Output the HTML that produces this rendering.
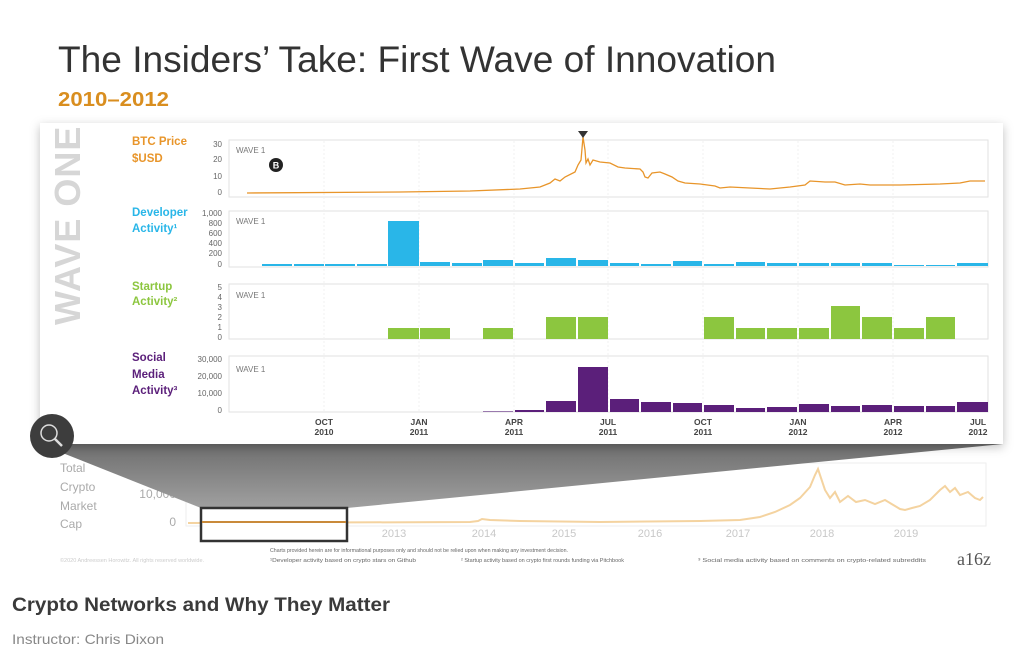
<!DOCTYPE html>
<html><head><meta charset="utf-8"><style>
html,body{margin:0;padding:0;background:#fff;}
svg{display:block;font-family:"Liberation Sans",sans-serif;}
</style></head><body>
<svg width="1024" height="656" viewBox="0 0 1024 656" xmlns="http://www.w3.org/2000/svg">
<defs>
<filter id="sh" x="-5%" y="-10%" width="110%" height="130%"><feDropShadow dx="0" dy="3" stdDeviation="5" flood-color="#000" flood-opacity="0.25"/></filter>
<linearGradient id="tg" x1="0" y1="0" x2="0" y2="1"><stop offset="0" stop-color="#6e6e6e"/><stop offset="1" stop-color="#a0a0a0"/></linearGradient>
</defs>
<rect width="1024" height="656" fill="#fff"/>
<text x="58" y="72" font-size="37" fill="#333" textLength="718" lengthAdjust="spacingAndGlyphs">The Insiders’ Take: First Wave of Innovation</text>
<text x="58" y="106" font-size="20" font-weight="bold" fill="#d98e1f" textLength="111" lengthAdjust="spacingAndGlyphs">2010–2012</text>

<g font-size="12" fill="#aaa">
<text x="60" y="472">Total</text><text x="60" y="491">Crypto</text><text x="60" y="510">Market</text><text x="60" y="528">Cap</text>
<text x="176" y="472" text-anchor="end">20,000</text><text x="176" y="498" text-anchor="end">10,000</text><text x="176" y="526" text-anchor="end">0</text>
</g>
<rect x="186" y="463" width="800" height="63" fill="#fff" stroke="#eee"/>
<g font-size="11" fill="#c8c8c8" text-anchor="middle">
<text x="394" y="537">2013</text><text x="484" y="537">2014</text><text x="564" y="537">2015</text><text x="650" y="537">2016</text><text x="738" y="537">2017</text><text x="822" y="537">2018</text><text x="906" y="537">2019</text>
</g>
<polyline fill="none" stroke="#f4d3a0" stroke-width="2" points="188,523 470,522 478,521 482,519 490,520 520,521 600,522 700,521 740,520 760,517 775,512 790,505 800,498 810,487 815,475 818,469 821,478 825,490 830,498 835,492 840,502 848,496 856,502 865,500 875,504 885,500 895,506 900,509 905,510 912,508 920,506 930,500 940,490 945,486 950,492 955,488 960,495 968,492 975,498 980,500 983,497"/>

<polygon points="40,444 1003,444 347,508 201,508" fill="url(#tg)"/>
<rect x="201" y="508" width="146" height="33" fill="#fff" stroke="#333" stroke-width="2.5"/>
<line x1="202" y1="522" x2="346" y2="522" stroke="#c98a3a" stroke-width="2"/>

<rect x="40" y="123" width="963" height="321" fill="#fff" filter="url(#sh)"/>
<text transform="translate(80,325) rotate(-90)" font-size="36" font-weight="bold" fill="#d6d6d6" letter-spacing="1">WAVE ONE</text>

<g font-size="11.5" font-weight="bold">
<text x="132" y="145" fill="#e8952a">BTC Price</text><text x="132" y="162" fill="#e8952a">$USD</text>
<text x="132" y="216" fill="#29b6e8">Developer</text><text x="132" y="232" fill="#29b6e8">Activity¹</text>
<text x="132" y="290" fill="#8cc63f">Startup</text><text x="132" y="305" fill="#8cc63f">Activity²</text>
<text x="132" y="361" fill="#5b1f7a">Social</text><text x="132" y="378" fill="#5b1f7a">Media</text><text x="132" y="394" fill="#5b1f7a">Activity³</text>
</g>
<g font-size="8" fill="#666" text-anchor="end">
<text x="222" y="147">30</text><text x="222" y="162">20</text><text x="222" y="179">10</text><text x="222" y="195">0</text>
<text x="222" y="216">1,000</text><text x="222" y="226">800</text><text x="222" y="236">600</text><text x="222" y="246">400</text><text x="222" y="256">200</text><text x="222" y="267">0</text>
<text x="222" y="290">5</text><text x="222" y="300">4</text><text x="222" y="310">3</text><text x="222" y="320">2</text><text x="222" y="330">1</text><text x="222" y="340">0</text>
<text x="222" y="362">30,000</text><text x="222" y="379">20,000</text><text x="222" y="396">10,000</text><text x="222" y="413">0</text>
</g>
<g fill="#fff" stroke="#e2e2e2">
<rect x="229" y="140" width="759" height="57"/>
<rect x="229" y="211" width="759" height="56"/>
<rect x="229" y="284" width="759" height="55"/>
<rect x="229" y="356" width="759" height="56"/>
</g>
<g stroke="#f0f0f0" stroke-dasharray="2,2">
<line x1="324" y1="141" x2="324" y2="411"/><line x1="419" y1="141" x2="419" y2="411"/><line x1="514" y1="141" x2="514" y2="411"/><line x1="608" y1="141" x2="608" y2="411"/><line x1="703" y1="141" x2="703" y2="411"/><line x1="798" y1="141" x2="798" y2="411"/><line x1="893" y1="141" x2="893" y2="411"/>
</g>
<g font-size="8" fill="#777"><text x="236" y="153">WAVE 1</text><text x="236" y="224">WAVE 1</text><text x="236" y="298">WAVE 1</text><text x="236" y="372">WAVE 1</text></g>
<circle cx="276" cy="165" r="7" fill="#222"/><text x="276" y="168.5" font-size="9" font-weight="bold" fill="#fff" text-anchor="middle">B</text>

<polyline fill="none" stroke="#e8952a" stroke-width="1.3" points="247,193 400,192 470,191 520,189 540,187 550,183 555,179 560,181 565,177 575,172 578,165 581,160 583,137 585,150 586,163 588,159 590,165 593,160 600,162 610,163 618,167 625,168 640,169 643,172 645,177 648,178 652,173 660,172 665,174 672,177 678,181 685,183 700,184 715,186 720,188 730,187 750,188 770,189 790,187 805,185 810,181 825,182 835,182 845,185 860,184 870,185 900,185 940,184 960,183 970,181 985,181"/>
<polygon points="578,131 588,131 583,138" fill="#333"/>

<g fill="#29b6e8">
<rect x="262" y="264" width="30" height="2"/><rect x="294" y="264" width="30" height="2"/><rect x="325" y="264" width="30" height="2"/><rect x="357" y="264" width="30" height="2"/>
<rect x="388" y="221" width="31" height="45"/>
<rect x="420" y="262" width="30" height="4"/><rect x="452" y="263" width="30" height="3"/><rect x="483" y="260" width="30" height="6"/><rect x="515" y="263" width="29" height="3"/><rect x="546" y="258" width="30" height="8"/><rect x="578" y="260" width="30" height="6"/><rect x="610" y="263" width="29" height="3"/><rect x="641" y="264" width="30" height="2"/><rect x="673" y="261" width="29" height="5"/><rect x="704" y="264" width="30" height="2"/><rect x="736" y="262" width="29" height="4"/><rect x="767" y="263" width="30" height="3"/><rect x="799" y="263" width="30" height="3"/><rect x="831" y="263" width="29" height="3"/><rect x="862" y="263" width="30" height="3"/><rect x="894" y="265" width="30" height="1"/><rect x="926" y="265" width="29" height="1"/><rect x="957" y="263" width="31" height="3"/>
</g>
<g fill="#8cc63f">
<rect x="388" y="328" width="31" height="11"/><rect x="420" y="328" width="30" height="11"/><rect x="483" y="328" width="30" height="11"/>
<rect x="546" y="317" width="30" height="22"/><rect x="578" y="317" width="30" height="22"/>
<rect x="704" y="317" width="30" height="22"/><rect x="736" y="328" width="29" height="11"/><rect x="767" y="328" width="30" height="11"/><rect x="799" y="328" width="30" height="11"/><rect x="831" y="306" width="29" height="33"/><rect x="862" y="317" width="30" height="22"/><rect x="894" y="328" width="30" height="11"/><rect x="926" y="317" width="29" height="22"/>
</g>
<g fill="#5b1f7a">
<rect x="483" y="411" width="30" height="1" fill="#9a7aae"/><rect x="515" y="410" width="29" height="2"/>
<rect x="546" y="401" width="30" height="11"/><rect x="578" y="367" width="30" height="45"/><rect x="610" y="399" width="29" height="13"/><rect x="641" y="402" width="30" height="10"/><rect x="673" y="403" width="29" height="9"/><rect x="704" y="405" width="30" height="7"/><rect x="736" y="408" width="29" height="4"/><rect x="767" y="407" width="30" height="5"/><rect x="799" y="404" width="30" height="8"/><rect x="831" y="406" width="29" height="6"/><rect x="862" y="405" width="30" height="7"/><rect x="894" y="406" width="30" height="6"/><rect x="926" y="406" width="29" height="6"/><rect x="957" y="402" width="31" height="10"/>
</g>
<g font-size="8.5" font-weight="bold" fill="#444" text-anchor="middle">
<text x="324" y="425">OCT</text><text x="324" y="435">2010</text>
<text x="419" y="425">JAN</text><text x="419" y="435">2011</text>
<text x="514" y="425">APR</text><text x="514" y="435">2011</text>
<text x="608" y="425">JUL</text><text x="608" y="435">2011</text>
<text x="703" y="425">OCT</text><text x="703" y="435">2011</text>
<text x="798" y="425">JAN</text><text x="798" y="435">2012</text>
<text x="893" y="425">APR</text><text x="893" y="435">2012</text>
<text x="978" y="425">JUL</text><text x="978" y="435">2012</text>
</g>

<circle cx="52" cy="436" r="22" fill="#3d3d3d"/>
<circle cx="49" cy="433" r="8" fill="none" stroke="#ddd" stroke-width="1.5"/>
<line x1="55" y1="439" x2="62" y2="446" stroke="#ddd" stroke-width="2.5"/>

<g font-size="5.5" fill="#666">
<text x="60" y="562" fill="#ccc">©2020 Andreessen Horowitz. All rights reserved worldwide.</text>
<text x="270" y="552" textLength="298" lengthAdjust="spacingAndGlyphs">Charts provided herein are for informational purposes only and should not be relied upon when making any investment decision.</text>
<text x="270" y="562" textLength="146" lengthAdjust="spacingAndGlyphs">¹Developer activity based on crypto stars on Github</text>
<text x="461" y="562" textLength="163" lengthAdjust="spacingAndGlyphs">² Startup activity based on crypto first rounds funding via Pitchbook</text>
<text x="698" y="562" textLength="228" lengthAdjust="spacingAndGlyphs">³ Social media activity based on comments on crypto-related subreddits</text>
</g>
<text x="957" y="565" font-size="18" fill="#555" font-family="Liberation Serif,serif">a16z</text>

<text x="12" y="611" font-size="19" font-weight="bold" fill="#3a3a3a" textLength="378" lengthAdjust="spacingAndGlyphs">Crypto Networks and Why They Matter</text>
<text x="12" y="644" font-size="14" fill="#888" textLength="152" lengthAdjust="spacingAndGlyphs">Instructor: Chris Dixon</text>
</svg>
</body></html>
